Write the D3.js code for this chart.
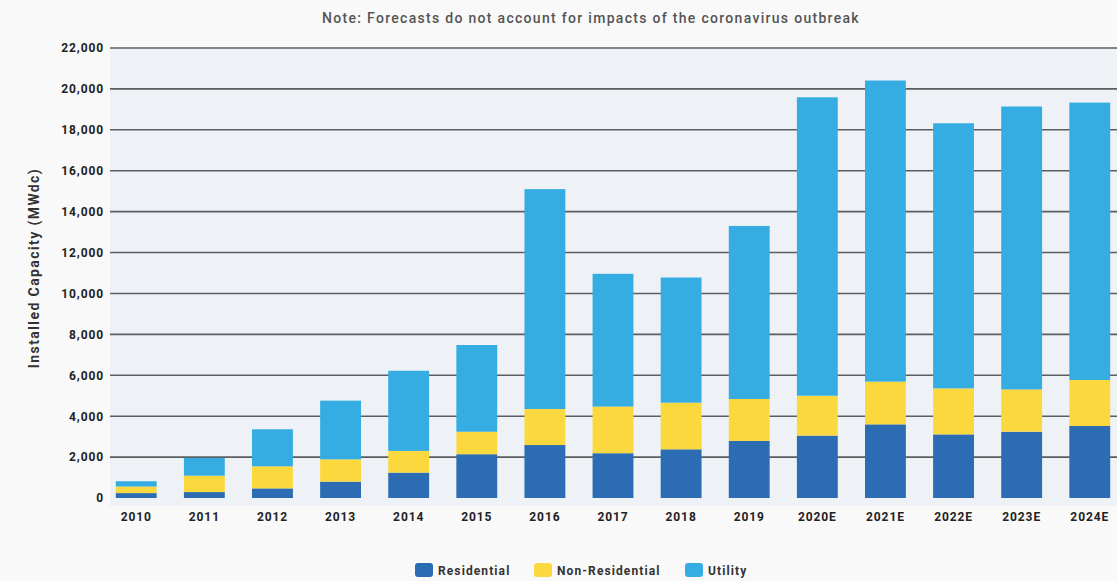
<!DOCTYPE html>
<html>
<head>
<meta charset="utf-8">
<script src="https://cdn.jsdelivr.net/npm/d3@7"></script>
<style>
  html, body { margin: 0; padding: 0; background: #f9f9f9; }
  svg { display: block; font-family: Roboto, "Noto Sans", sans-serif; }
</style>
</head>
<body>
<svg id="chart" width="1117" height="581"></svg>
<script>
// Annual US solar installations by segment (MWdc)
const years = ["2010", "2011", "2012", "2013", "2014", "2015", "2016", "2017", "2018", "2019",
               "2020E", "2021E", "2022E", "2023E", "2024E"];
const residential    = [240, 290, 470, 800, 1240, 2140, 2590, 2190, 2380, 2790, 3050, 3600, 3110, 3240, 3520];
const nonResidential = [320, 800, 1080, 1090, 1060, 1100, 1760, 2280, 2280, 2050, 1950, 2090, 2250, 2070, 2250];
const utility        = [260, 870, 1810, 2870, 3920, 4240, 10750, 6490, 6120, 8460, 14590, 14720, 12960, 13830, 13560];
const yTicks = [0, 2000, 4000, 6000, 8000, 10000, 12000, 14000, 16000, 18000, 20000, 22000];

const seriesNames = ["Residential", "Non-Residential", "Utility"];
const seriesColors = ["#2b6cb2", "#fbd93e", "#35ade3"];

const title = "Note: Forecasts do not account for impacts of the coronavirus outbreak";
const yTitle = "Installed Capacity (MWdc)";

const svg = d3.select("#chart");
const plot = { left: 109, right: 1117, top: 48, bottom: 498 };

const x = d3.scaleBand().domain(years).range([plot.left, plot.right])
  .paddingInner(0.4).paddingOuter(0.1);
const y = d3.scaleLinear().domain([0, 22000]).range([plot.bottom, plot.top]);

// plot background
svg.append("rect")
  .attr("x", plot.left + 1).attr("y", plot.top)
  .attr("width", plot.right - plot.left).attr("height", plot.bottom - plot.top + 8)
  .attr("fill", "#eef2f6");

// gridlines
svg.append("g").selectAll("line")
  .data(yTicks.filter(d => d > 0))
  .join("line")
  .attr("x1", plot.left + 1).attr("x2", plot.right)
  .attr("y1", d => y(d)).attr("y2", d => y(d))
  .attr("stroke", "#5b5d60").attr("stroke-width", 1.6);

// y axis labels
const yAxis = d3.axisLeft(y).tickValues(yTicks).tickFormat(d3.format(",")).tickSize(0).tickPadding(5);
const gy = svg.append("g").attr("transform", `translate(${plot.left},0)`).call(yAxis);
gy.select(".domain").remove();
gy.selectAll("text")
  .attr("font-size", 12).attr("font-weight", 700).attr("fill", "#222")
  .attr("letter-spacing", "0.9px").attr("font-family", "Roboto");

// stacked bars
const table = years.map((yr, i) => ({
  year: yr,
  Residential: residential[i],
  "Non-Residential": nonResidential[i],
  Utility: utility[i]
}));
const stack = d3.stack().keys(seriesNames)(table);

svg.append("g").selectAll("g")
  .data(stack)
  .join("g")
  .attr("fill", (d, i) => seriesColors[i])
  .selectAll("rect")
  .data(d => d)
  .join("rect")
  .attr("x", d => x(d.data.year))
  .attr("width", x.bandwidth())
  .attr("y", d => y(d[1]))
  .attr("height", d => y(d[0]) - y(d[1]));

// x axis labels
const xAxis = d3.axisBottom(x).tickSize(0).tickPadding(14);
const gx = svg.append("g").attr("transform", `translate(0,${plot.bottom})`).call(xAxis);
gx.select(".domain").remove();
gx.selectAll("text")
  .attr("font-size", 12).attr("font-weight", 700).attr("fill", "#222")
  .attr("letter-spacing", "0.9px").attr("font-family", "Roboto");

// title note
svg.append("text")
  .attr("x", 591).attr("y", 23)
  .attr("text-anchor", "middle")
  .attr("font-size", 14).attr("font-weight", 500).attr("fill", "#555")
  .attr("letter-spacing", "1.3px")
  .text(title);

// y axis title
svg.append("text")
  .attr("transform", "translate(39,268) rotate(-90)")
  .attr("text-anchor", "middle")
  .attr("font-size", 14).attr("font-weight", 700).attr("fill", "#333")
  .attr("letter-spacing", "1.4px")
  .text(yTitle);

// legend
const legendItems = [
  { name: seriesNames[0], color: seriesColors[0], x: 415 },
  { name: seriesNames[1], color: seriesColors[1], x: 534 },
  { name: seriesNames[2], color: seriesColors[2], x: 685 }
];
const lg = svg.append("g").selectAll("g").data(legendItems).join("g")
  .attr("transform", d => `translate(${d.x},563)`);
lg.append("rect").attr("width", 18).attr("height", 14).attr("rx", 3)
  .attr("fill", d => d.color);
lg.append("text").attr("x", 23).attr("y", 11.5)
  .attr("font-size", 12).attr("font-weight", 700).attr("fill", "#333")
  .attr("letter-spacing", "1.1px")
  .text(d => d.name);
</script>
</body>
</html>
